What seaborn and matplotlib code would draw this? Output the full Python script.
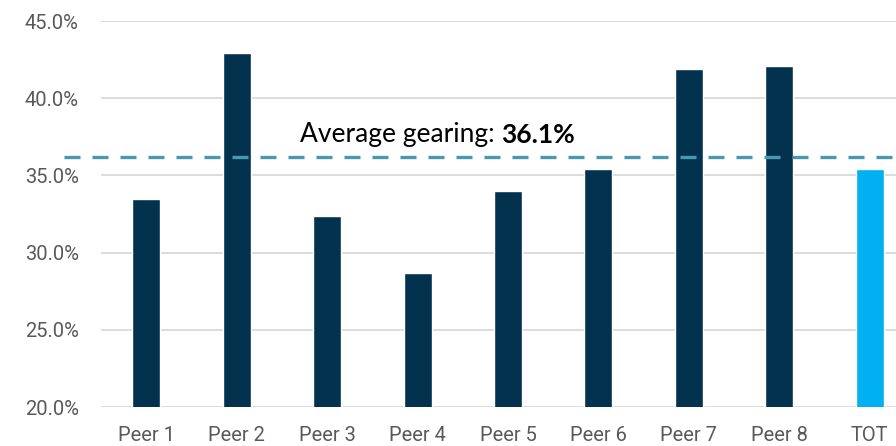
import matplotlib.pyplot as plt
import seaborn as sns

sns.set_theme(style="white")

categories = ["Peer 1", "Peer 2", "Peer 3", "Peer 4", "Peer 5", "Peer 6", "Peer 7", "Peer 8", "TOT"]
gearing = [33.5, 42.9, 32.4, 28.7, 34.0, 35.4, 41.9, 42.1, 35.4]
average_label = 36.1   # value printed in the annotation
average_line = 36.2    # where the dashed line sits in the picture
yticks = [20, 25, 30, 35, 40, 45]

navy = "#03324F"
light = "#00B0F0"
colors = [navy] * 8 + [light]

fig = plt.figure(figsize=(8.96, 4.46), dpi=100)
ax = fig.add_axes([0.1127, 0.0874, 0.8873, 0.8655])

sns.barplot(x=categories, y=gearing, hue=categories, palette=colors,
            legend=False, width=0.31, ax=ax, saturation=1, zorder=3)

ax.set_ylim(20, 45)
ax.set_xlim(-0.5, 8.29)
ax.set_yticks(yticks)
ax.set_yticklabels([f"{v:.1f}%" for v in yticks])
ax.yaxis.grid(True, color="#d9d9d9", linewidth=1.3, zorder=0)
ax.set_axisbelow(True)
for s in ax.spines.values():
    s.set_visible(False)
ax.tick_params(axis="both", length=0, labelsize=14.5, labelcolor="#595959")
ax.tick_params(axis="y", pad=16)
ax.tick_params(axis="x", pad=14)
for lab in ax.get_xticklabels() + ax.get_yticklabels():
    lab.set_family("Roboto")
ax.set_xlabel("")
ax.set_ylabel("")

# average line, runs past the left edge of the plot area
ax.hlines(average_line, -0.91, 8.29, colors="#4A97B0", linewidth=2.4,
          linestyles=(0, (4.8, 3.6)), clip_on=False, zorder=4)

t1 = ax.text(1.70, 37.16, "Average gearing: ", fontsize=19, family="Lato",
             color="black", va="baseline", ha="left")
ax.annotate(f"{average_label:.1f}%", xy=(1, 0), xycoords=t1, va="bottom", ha="left",
            fontsize=19, family="Lato", fontweight="bold", color="black")

fig.savefig("out.png", dpi=100)
